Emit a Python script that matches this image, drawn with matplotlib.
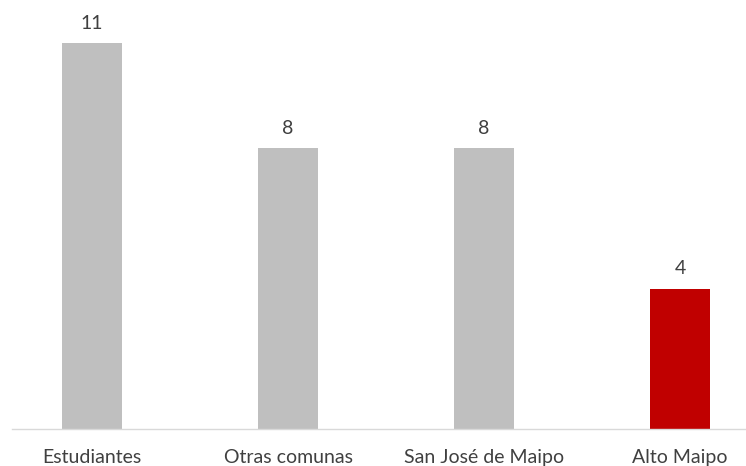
import matplotlib
matplotlib.use("Agg")
import matplotlib.pyplot as plt

# Data
categories = ["Estudiantes", "Otras comunas", "San José de Maipo", "Alto Maipo"]
values = [11, 8, 8, 4]
colors = ["#bfbfbf", "#bfbfbf", "#bfbfbf", "#c00000"]

plt.rcParams["font.family"] = ["Lato", "DejaVu Sans"]

W, H = 746, 466
fig = plt.figure(figsize=(W / 100, H / 100), dpi=100)

# axes placed in pixel terms: baseline at y=429, axis line starts at x=12
left_px, base_px = 12, 429
ax = fig.add_axes([left_px / W, (H - base_px) / H, 1 - left_px / W, base_px / H])

step = 196.0  # pixels between category centres
first = 92.0  # centre of first bar in pixels
ax.set_xlim((left_px - first) / step, (W - first) / step)
ax.set_ylim(0, base_px / 35.1)

x = range(len(categories))
bars = ax.bar(x, values, width=60 / step, color=colors)

for xi, v in zip(x, values):
    ax.annotate(str(v), (xi, v), xytext=(0, 8), textcoords="offset points",
                ha="center", va="bottom", fontsize=14, color="#404040")

ax.set_xticks(list(x))
ax.set_xticklabels(categories, fontsize=14, color="#404040")
ax.tick_params(axis="x", length=0, pad=14.5)
ax.set_yticks([])

for s in ["top", "right", "left"]:
    ax.spines[s].set_visible(False)
ax.spines["bottom"].set_color("#d9d9d9")
ax.spines["bottom"].set_linewidth(1.0)

fig.savefig("out.png", dpi=100)
